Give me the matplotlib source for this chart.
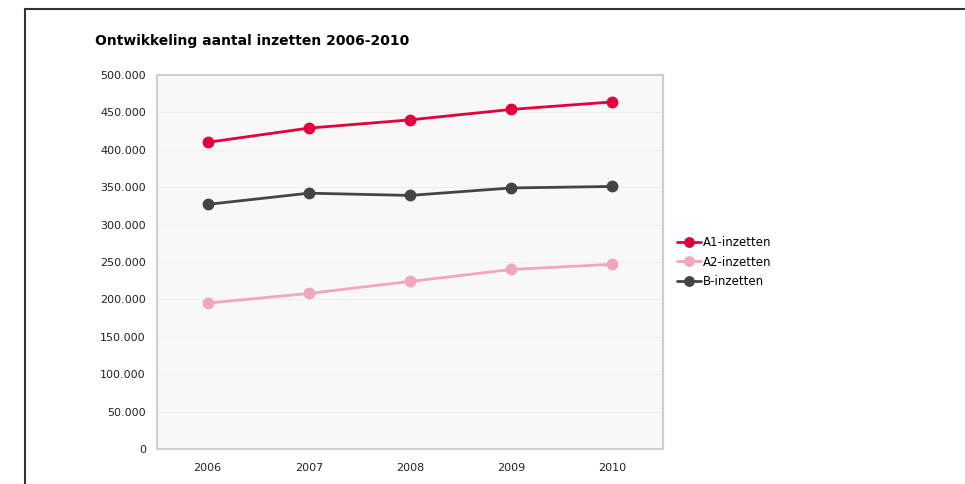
import matplotlib.pyplot as plt
from matplotlib.lines import Line2D
from matplotlib.ticker import FuncFormatter

years = [2006, 2007, 2008, 2009, 2010]
a1_inzetten = [410000, 429000, 440000, 454000, 464000]
a2_inzetten = [195000, 208000, 224000, 240000, 247000]
b_inzetten = [327000, 342000, 339000, 349000, 351000]

series_names = ['A1-inzetten', 'A2-inzetten', 'B-inzetten']
colors = ['#e2003d', '#f2a6be', '#444444']

fig = plt.figure(figsize=(9.65, 4.84), dpi=100)

# outer frame (top and left edge)
fig.add_artist(Line2D([24.5 / 965, 1], [1 - 8.5 / 484] * 2, color='#333333', lw=1.5))
fig.add_artist(Line2D([24.5 / 965] * 2, [0, 1 - 8.5 / 484], color='#333333', lw=1.5))

ax = fig.add_axes([157 / 965, 1 - 449 / 484, 506 / 965, 374 / 484])
ax.set_facecolor('#f8f8f8')

for vals, name, c in zip([a1_inzetten, a2_inzetten, b_inzetten], series_names, colors):
    ax.plot(years, vals, color=c, lw=2, marker='o', markersize=7.5, label=name,
            solid_capstyle='round', zorder=3)

ax.set_xlim(2005.5, 2010.5)
ax.set_ylim(0, 500000)
ax.set_xticks(years)
ax.set_yticks(range(0, 500001, 50000))
ax.yaxis.set_major_formatter(FuncFormatter(lambda v, p: f'{int(v):,}'.replace(',', '.')))
ax.grid(axis='y', color='#eeeeee', lw=0.8)
ax.set_axisbelow(True)
ax.tick_params(length=0, labelsize=8, colors='#222222', pad=8)
ax.tick_params(axis='x', pad=10)
for s in ax.spines.values():
    s.set_color('#cfcfcf')
    s.set_linewidth(1.5)

fig.text(95 / 965, 1 - 41 / 484, 'Ontwikkeling aantal inzetten 2006-2010',
         fontsize=10, fontweight='bold', va='center', ha='left')

ax.legend(loc='center left', bbox_to_anchor=(1.0, 0.5), frameon=False, fontsize=8.5,
          handlelength=2.0, handletextpad=0.15, labelspacing=0.55, borderaxespad=0.8,
          markerscale=0.9)

fig.savefig('out.png', dpi=100)
